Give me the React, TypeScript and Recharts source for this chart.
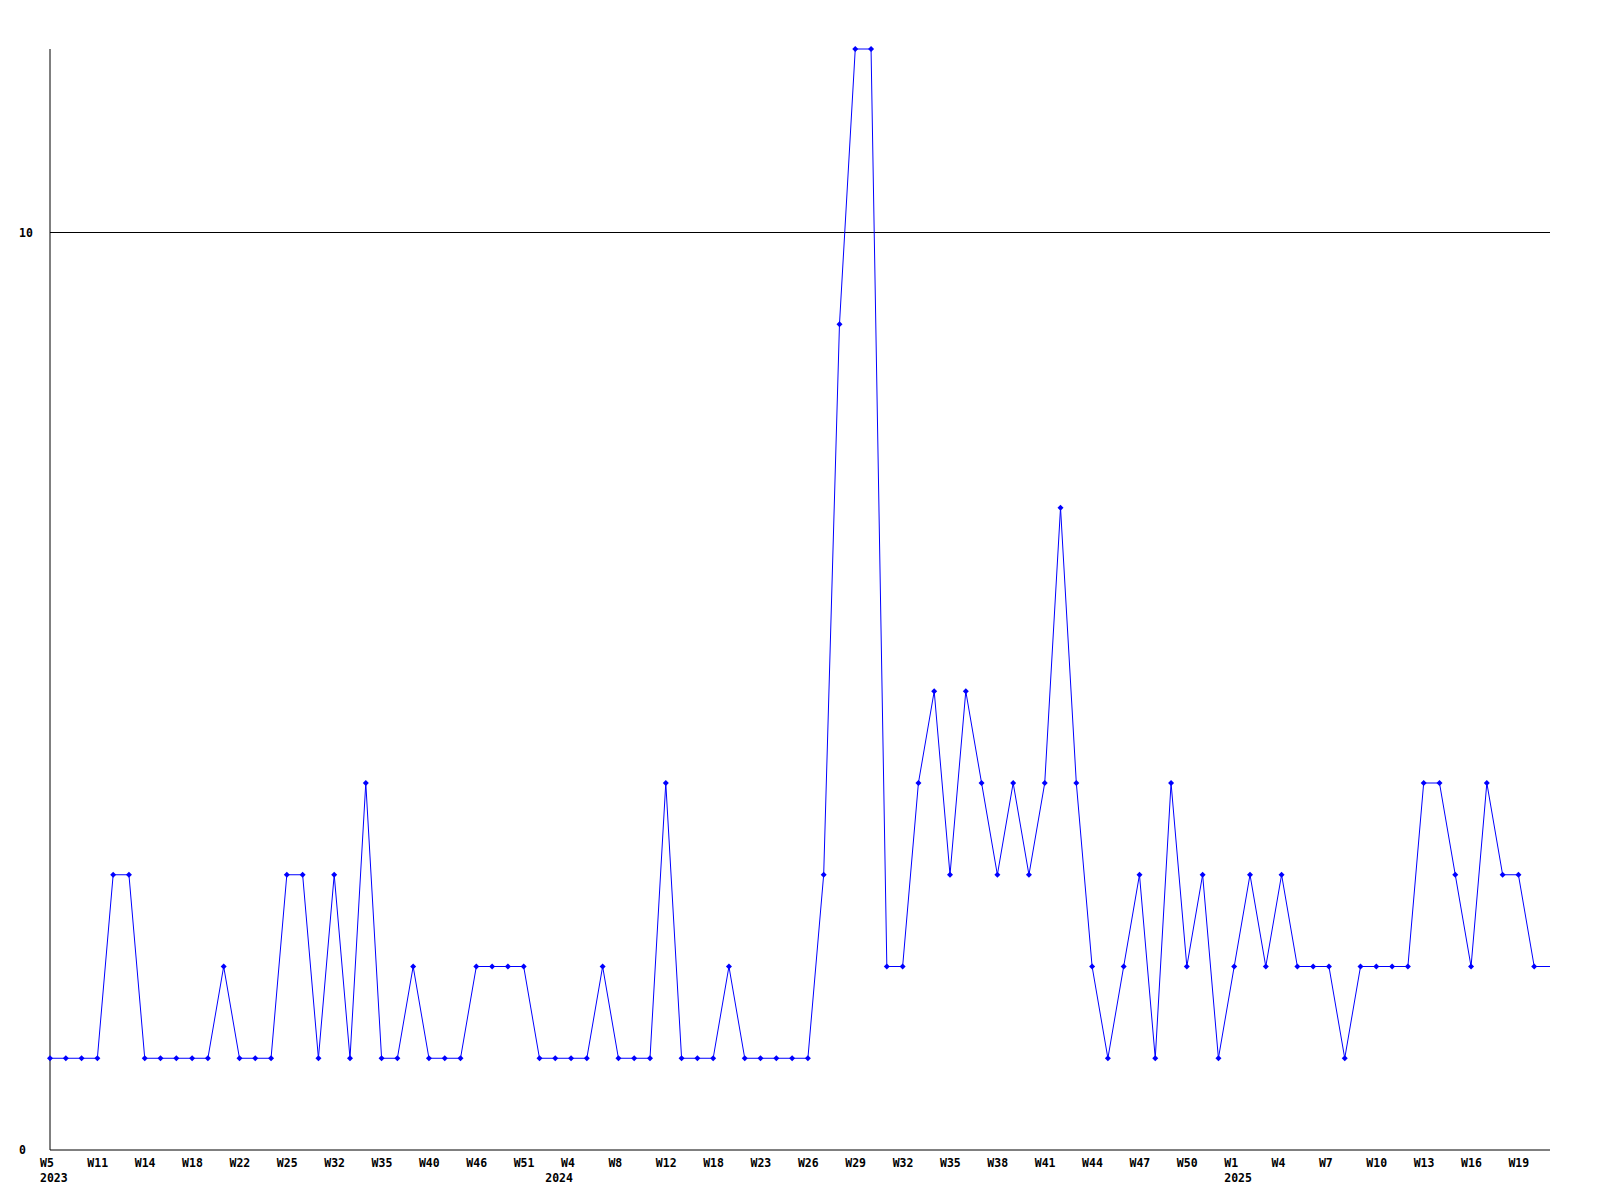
import React from 'react';
import { LineChart, Line, XAxis, YAxis, ReferenceLine } from 'recharts';

// one value per sample, left to right
const counts = [
  1, 1, 1, 1, 3, 3, 1, 1, 1, 1, 1, 2, 1, 1, 1, 3, 3, 1, 3, 1,
  4, 1, 1, 2, 1, 1, 1, 2, 2, 2, 2, 1, 1, 1, 1, 2, 1, 1, 1, 4,
  1, 1, 1, 2, 1, 1, 1, 1, 1, 3, 9, 12, 12, 2, 2, 4, 5, 3, 5, 4,
  3, 4, 3, 4, 7, 4, 2, 1, 2, 3, 1, 4, 2, 3, 1, 2, 3, 2, 3, 2,
  2, 2, 1, 2, 2, 2, 2, 4, 4, 3, 2, 4, 3, 3, 2, 2
];

// week labels, shown on every third sample
const weekLabels = [
  'W5', 'W11', 'W14', 'W18', 'W22', 'W25', 'W32', 'W35', 'W40', 'W46', 'W51',
  'W4', 'W8', 'W12', 'W18', 'W23', 'W26', 'W29', 'W32', 'W35', 'W38', 'W41',
  'W44', 'W47', 'W50', 'W1', 'W4', 'W7', 'W10', 'W13', 'W16', 'W19'
];
const weekStep = 3;

const yearLabels = ['2023', '2024', '2025'];
const yearIdx = [0, 32, 75];

const yTicks = [0, 10];

const data = counts.map((v, i) => ({ i, v }));

const weekTicks = weekLabels.map((_, k) => k * weekStep);
const allTicks = Array.from(new Set([...weekTicks, ...yearIdx])).sort((a, b) => a - b);

const FONT = '"DejaVu Sans Mono", "Liberation Mono", monospace';

// labels start a little left of their sample, like the original
const XTick = ({ x, y, payload }: any) => {
  const idx = payload.value;
  const week = idx % weekStep === 0 ? weekLabels[idx / weekStep] : null;
  const yi = yearIdx.indexOf(idx);
  return (
    <g>
      {week && (
        <text x={x - 10} y={y + 17} textAnchor="start" fontFamily={FONT} fontWeight="bold" fontSize={11.5} fill="#000">
          {week}
        </text>
      )}
      {yi >= 0 && (
        <text x={x - 10} y={y + 32} textAnchor="start" fontFamily={FONT} fontWeight="bold" fontSize={11.5} fill="#000">
          {yearLabels[yi]}
        </text>
      )}
    </g>
  );
};

const YTick = ({ y, payload }: any) => (
  <text x={19} y={y + 4} textAnchor="start" fontFamily={FONT} fontWeight="bold" fontSize={11.5} fill="#000">
    {payload.value}
  </text>
);

const Marker = (props: any) => {
  const { cx, cy, index } = props;
  if (index === counts.length - 1) return <g key={`d-${index}`} />;
  return (
    <path
      key={`d-${index}`}
      d={`M${cx},${cy - 3} L${cx + 3},${cy} L${cx},${cy + 3} L${cx - 3},${cy} Z`}
      fill="#0000ff"
    />
  );
};

export default function App() {
  return (
    <div style={{ position: 'absolute', left: 0, top: 0, width: 1600, height: 1200, background: 'white' }}>
      <LineChart width={1600} height={1200} data={data} margin={{ top: 49, right: 50, bottom: 0, left: 0 }}>
        <XAxis
          dataKey="i"
          type="number"
          domain={[0, counts.length - 1]}
          ticks={allTicks}
          interval={0}
          height={50}
          tickSize={0}
          tickMargin={0}
          tickLine={false}
          axisLine={{ stroke: '#000', strokeWidth: 1 }}
          tick={<XTick />}
        />
        <YAxis
          type="number"
          domain={[0, 12]}
          ticks={yTicks}
          width={50}
          tickSize={0}
          tickMargin={0}
          tickLine={false}
          axisLine={{ stroke: '#000', strokeWidth: 1 }}
          tick={<YTick />}
        />
        <ReferenceLine y={10} stroke="#000" strokeWidth={1} />
        <Line
          type="linear"
          dataKey="v"
          stroke="#0000ff"
          strokeWidth={1}
          dot={<Marker />}
          activeDot={false}
          isAnimationActive={false}
        />
      </LineChart>
    </div>
  );
}
